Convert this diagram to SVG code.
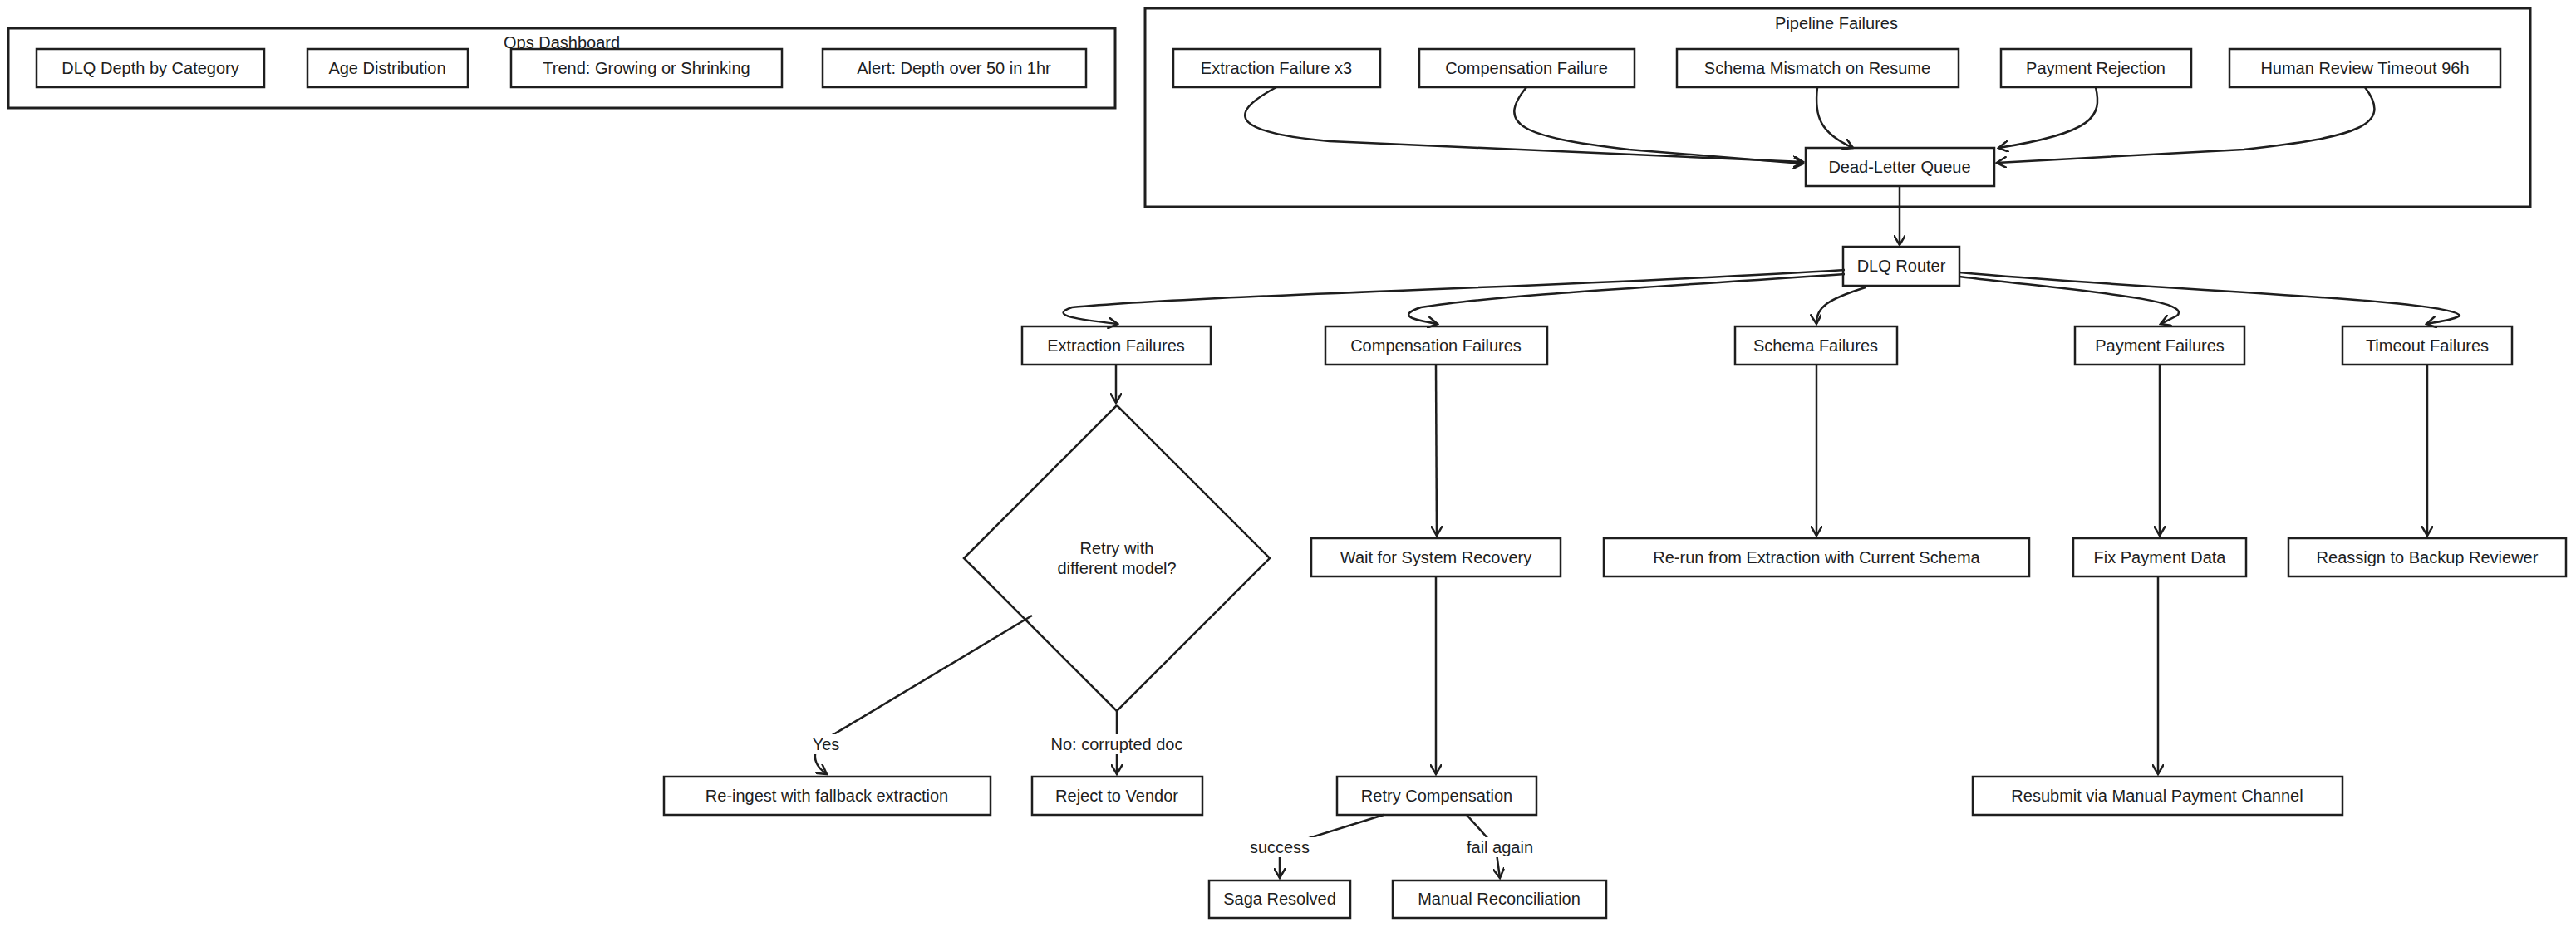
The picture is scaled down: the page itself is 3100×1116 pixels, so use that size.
<svg xmlns="http://www.w3.org/2000/svg" width="3100" height="1116" viewBox="0 0 3100 1116">
<style>
.n rect,.n polygon{fill:#fff;stroke:#1e1e1e;stroke-width:2.5}
.c rect{fill:none;stroke:#1e1e1e;stroke-width:3}
text{font-family:"Liberation Sans",Arial,sans-serif;font-size:20px;fill:#1e1e1e;text-anchor:middle;dominant-baseline:central}
.e path{fill:none;stroke:#1e1e1e;stroke-width:2.5}
</style>
<defs><marker id="a" markerWidth="14" markerHeight="14" refX="12" refY="7" orient="auto" markerUnits="userSpaceOnUse"><path d="M0,0 L12,7 L0,14" fill="none" stroke="#1e1e1e" stroke-width="2.5"/></marker></defs>
<rect width="3100" height="1116" fill="#fff"/>
<g id="ops" class="c"><rect x="10" y="34" width="1332" height="96"/><text x="676" y="51">Ops Dashboard</text></g>
<g id="pipe" class="c"><rect x="1378" y="10" width="1667" height="239"/><text x="2210" y="28">Pipeline Failures</text></g>
<g id="d1" class="n"><rect x="44" y="59" width="274" height="46"/><text x="181" y="82">DLQ Depth by Category</text></g>
<g id="d2" class="n"><rect x="370" y="59" width="193" height="46"/><text x="466" y="82">Age Distribution</text></g>
<g id="d3" class="n"><rect x="615" y="59" width="326" height="46"/><text x="778" y="82">Trend: Growing or Shrinking</text></g>
<g id="d4" class="n"><rect x="990" y="59" width="317" height="46"/><text x="1148" y="82">Alert: Depth over 50 in 1hr</text></g>
<g id="p1" class="n"><rect x="1412" y="59" width="249" height="46"/><text x="1536" y="82">Extraction Failure x3</text></g>
<g id="p2" class="n"><rect x="1708" y="59" width="259" height="46"/><text x="1837" y="82">Compensation Failure</text></g>
<g id="p3" class="n"><rect x="2018" y="59" width="339" height="46"/><text x="2187" y="82">Schema Mismatch on Resume</text></g>
<g id="p4" class="n"><rect x="2408" y="59" width="229" height="46"/><text x="2522" y="82">Payment Rejection</text></g>
<g id="p5" class="n"><rect x="2683" y="59" width="326" height="46"/><text x="2846" y="82">Human Review Timeout 96h</text></g>
<g id="dlq" class="n"><rect x="2173" y="178" width="227" height="46"/><text x="2286" y="201">Dead-Letter Queue</text></g>
<g id="router" class="n"><rect x="2218" y="297" width="140" height="47"/><text x="2288" y="320">DLQ Router</text></g>
<g id="f1" class="n"><rect x="1230" y="393" width="227" height="46"/><text x="1343" y="416">Extraction Failures</text></g>
<g id="f2" class="n"><rect x="1595" y="393" width="267" height="46"/><text x="1728" y="416">Compensation Failures</text></g>
<g id="f3" class="n"><rect x="2088" y="393" width="195" height="46"/><text x="2185" y="416">Schema Failures</text></g>
<g id="f4" class="n"><rect x="2497" y="393" width="204" height="46"/><text x="2599" y="416">Payment Failures</text></g>
<g id="f5" class="n"><rect x="2819" y="393" width="204" height="46"/><text x="2921" y="416">Timeout Failures</text></g>
<g id="q" class="n"><polygon points="1344,488 1528,672 1344,856 1160,672"/><text x="1344" y="660">Retry with</text><text x="1344" y="684">different model?</text></g>
<g id="w" class="n"><rect x="1578" y="648" width="300" height="46"/><text x="1728" y="671">Wait for System Recovery</text></g>
<g id="rr" class="n"><rect x="1930" y="648" width="512" height="46"/><text x="2186" y="671">Re-run from Extraction with Current Schema</text></g>
<g id="fp" class="n"><rect x="2495" y="648" width="208" height="46"/><text x="2599" y="671">Fix Payment Data</text></g>
<g id="ra" class="n"><rect x="2754" y="648" width="334" height="46"/><text x="2921" y="671">Reassign to Backup Reviewer</text></g>
<g id="ri" class="n"><rect x="799" y="935" width="393" height="46"/><text x="995" y="958">Re-ingest with fallback extraction</text></g>
<g id="rv" class="n"><rect x="1242" y="935" width="205" height="46"/><text x="1344" y="958">Reject to Vendor</text></g>
<g id="rc" class="n"><rect x="1609" y="935" width="240" height="46"/><text x="1729" y="958">Retry Compensation</text></g>
<g id="rs" class="n"><rect x="2374" y="935" width="445" height="46"/><text x="2596" y="958">Resubmit via Manual Payment Channel</text></g>
<g id="sr" class="n"><rect x="1455" y="1060" width="170" height="45"/><text x="1540" y="1082">Saga Resolved</text></g>
<g id="mr" class="n"><rect x="1676" y="1060" width="257" height="45"/><text x="1804" y="1082">Manual Reconciliation</text></g>
<g id="edges" class="e">
<path d="M1536,105 C1470,140 1490,160 1600,170 L2170,195" marker-end="url(#a)"/>
<path d="M1837,105 C1800,150 1830,165 1960,180 L2170,197" marker-end="url(#a)"/>
<path d="M2187,105 C2183,140 2190,160 2230,178" marker-end="url(#a)"/>
<path d="M2522,105 C2530,140 2520,160 2405,178" marker-end="url(#a)"/>
<path d="M2846,105 C2880,150 2840,165 2700,180 L2403,196" marker-end="url(#a)"/>
<path d="M2286,224 L2286,295" marker-end="url(#a)"/>
<path d="M2220,325 C1900,345 1450,355 1290,370 C1260,380 1300,385 1345,390" marker-end="url(#a)"/>
<path d="M2220,330 C2000,345 1800,355 1710,370 C1680,380 1700,385 1730,390" marker-end="url(#a)"/>
<path d="M2245,346 C2200,360 2185,370 2186,390" marker-end="url(#a)"/>
<path d="M2358,333 C2500,350 2640,360 2620,380 C2610,385 2605,388 2600,390" marker-end="url(#a)"/>
<path d="M2358,328 C2600,350 2950,360 2960,380 C2955,385 2930,388 2920,390" marker-end="url(#a)"/>
<path d="M1343,439 L1343,485" marker-end="url(#a)"/>
<path d="M1728,439 L1729,645" marker-end="url(#a)"/>
<path d="M2186,439 L2186,645" marker-end="url(#a)"/>
<path d="M2599,439 L2599,645" marker-end="url(#a)"/>
<path d="M2921,439 L2921,645" marker-end="url(#a)"/>
<path d="M1728,694 L1728,932" marker-end="url(#a)"/>
<path d="M2597,694 L2597,932" marker-end="url(#a)"/>
<path d="M1242,741 L985,895 C975,915 985,925 995,932" marker-end="url(#a)"/>
<path d="M1344,856 L1344,932" marker-end="url(#a)"/>
<path d="M1665,981 L1540,1020 L1540,1057" marker-end="url(#a)"/>
<path d="M1765,981 L1800,1020 L1805,1057" marker-end="url(#a)"/>
</g>
<g id="labels">
<rect x="976" y="884" width="38" height="24" fill="#fff"/><text x="994" y="896">Yes</text>
<rect x="1260" y="884" width="168" height="24" fill="#fff"/><text x="1344" y="896">No: corrupted doc</text>
<rect x="1498" y="1008" width="84" height="24" fill="#fff"/><text x="1540" y="1020">success</text>
<rect x="1760" y="1008" width="90" height="24" fill="#fff"/><text x="1805" y="1020">fail again</text>
</g>
</svg>
